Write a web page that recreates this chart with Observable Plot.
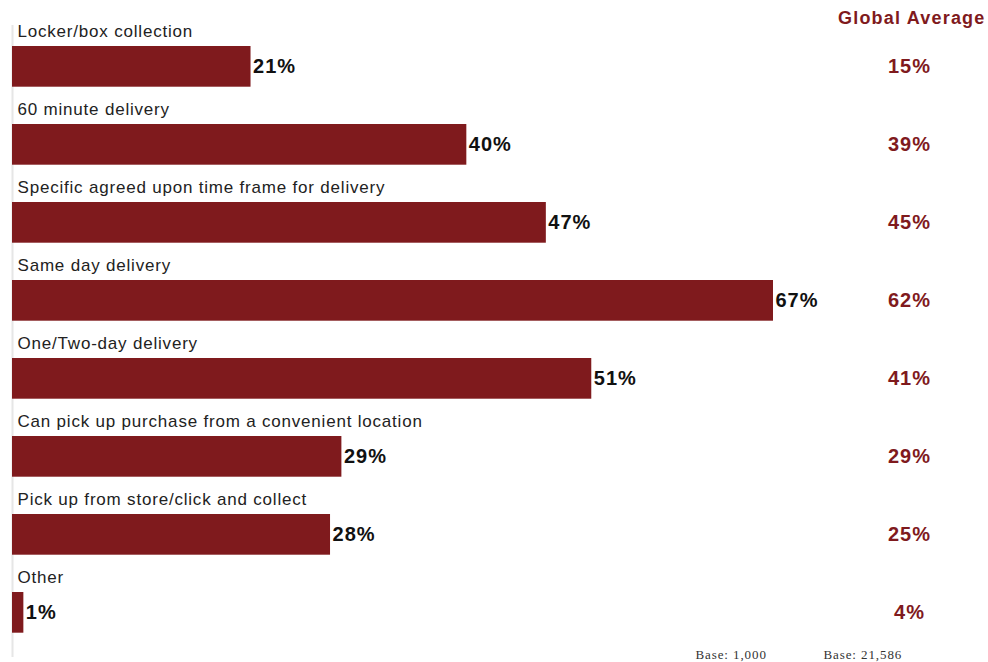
<!DOCTYPE html>
<html>
<head>
<meta charset="utf-8">
<script src="https://cdn.jsdelivr.net/npm/d3@7"></script>
<script src="https://cdn.jsdelivr.net/npm/@observablehq/plot@0.6"></script>
<style>
  html, body { margin: 0; padding: 0; background: #fff; }
  g[font-size="17"] text { letter-spacing: 0.8px; }
  g[font-size="20"] text { letter-spacing: 1px; }
  g[font-size="18"] text { letter-spacing: 1.2px; }
  g[font-size="13"] text { letter-spacing: 0.9px; }
</style>
</head>
<body>
<div id="chart"></div>
<script>
const categories = [
  "Locker/box collection",
  "60 minute delivery",
  "Specific agreed upon time frame for delivery",
  "Same day delivery",
  "One/Two-day delivery",
  "Can pick up purchase from a convenient location",
  "Pick up from store/click and collect",
  "Other"
];
const values = [21, 40, 47, 67, 51, 29, 28, 1];
const globalAverage = [15, 39, 45, 62, 41, 29, 25, 4];
const headerLabel = ["Global Average"];
const baseLeft = ["Base: 1,000"];
const baseRight = ["Base: 21,586"];

const rows = categories.map((c, i) => ({cat: c, value: values[i], global: globalAverage[i]}));
const red = "#7f1a1d";

const chart = Plot.plot({
  width: 988,
  height: 662,
  marginTop: 25,
  marginBottom: 5,
  marginLeft: 12,
  marginRight: 0,
  style: {fontFamily: "'Liberation Sans', Arial, Helvetica, sans-serif", background: "#fff"},
  x: {domain: [0, 67], range: [12, 773], axis: null},
  y: {domain: categories, range: [20, 646.4], padding: 0, axis: null},
  marks: [
    Plot.ruleX([0], {stroke: "#e6e6e6", strokeWidth: 2}),
    Plot.barX(rows, {x: "value", y: "cat", fill: red, insetTop: 25, insetBottom: 12.3}),
    Plot.text(rows, {
      x: 0, y: "cat", text: "cat", textAnchor: "start",
      dx: 5, dy: -28.5, fontSize: 17, fill: "#222"
    }),
    Plot.text(rows, {
      x: "value", y: "cat", text: d => d.value + "%", textAnchor: "start",
      dx: 2, dy: 6.4, fontSize: 20, fontWeight: "bold", fill: "#111"
    }),
    Plot.text(rows, {
      y: "cat", frameAnchor: "right", text: d => d.global + "%",
      textAnchor: "middle", dx: -79, dy: 6.4, fontSize: 20, fontWeight: "bold", fill: red
    }),
    Plot.text(headerLabel, {
      frameAnchor: "top-right", text: d => d,
      textAnchor: "end", lineAnchor: "middle", dx: -3, dy: -7, fontSize: 18, fontWeight: "bold", fill: red
    }),
    Plot.text(baseLeft, {
      frameAnchor: "bottom-right", text: d => d,
      textAnchor: "start", lineAnchor: "middle", dx: -293, dy: -3, fontSize: 13,
      fontFamily: "'Liberation Serif', 'Times New Roman', serif", fill: "#333"
    }),
    Plot.text(baseRight, {
      frameAnchor: "bottom-right", text: d => d,
      textAnchor: "start", lineAnchor: "middle", dx: -165, dy: -3, fontSize: 13,
      fontFamily: "'Liberation Serif', 'Times New Roman', serif", fill: "#333"
    })
  ]
});
document.getElementById("chart").appendChild(chart);
</script>
</body>
</html>
